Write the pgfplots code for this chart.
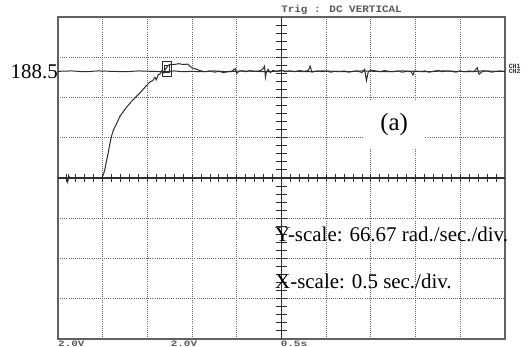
\documentclass[border=0pt]{standalone}
\usepackage{fontspec}
\setmainfont{Liberation Serif}
\newfontfamily\scopefont{Liberation Mono}
\usepackage{pgfplots}
\pgfplotsset{compat=1.18}
\usepackage{graphicx}
\definecolor{trace}{gray}{0.18}
\definecolor{framec}{gray}{0.38}
\definecolor{gridc}{gray}{0.4}
\definecolor{labc}{gray}{0.35}
\begin{document}
\begin{tikzpicture}
\path[use as bounding box, fill=white] (-58bp,-8bp) rectangle (474bp,339bp);
\begin{axis}[
  at={(0,0)}, anchor=south west,
  scale only axis, width=447bp, height=322bp,
  xmin=0, xmax=10, ymin=-4, ymax=4,
  xtick={1,2,...,9}, ytick={-3,-2,...,3},
  xticklabels={}, yticklabels={},
  major tick length=0pt,
  grid=major,
  grid style={gridc, line width=0.85bp, dash pattern=on 0.9bp off 1.2bp},
  axis line style={framec, line width=1.2bp},
  clip=false,
]
% centre graticule with minor ticks
\draw[trace, line width=1.1bp] (axis cs:0,0) -- (axis cs:10,0);
\draw[trace, line width=1.1bp] (axis cs:5,-4) -- (axis cs:5,4);
\pgfplotsinvokeforeach{0.2,0.4,0.6,0.8,1,1.2,1.4,1.6,1.8,2,2.2,2.4,2.6,2.8,3,3.2,3.4,3.6,3.8,4,4.2,4.4,4.6,4.8,5.2,5.4,5.6,5.8,6,6.2,6.4,6.6,6.8,7,7.2,7.4,7.6,7.8,8,8.2,8.4,8.6,8.8,9,9.2,9.4,9.6,9.8}{
  \draw[trace, line width=0.9bp] (axis cs:#1,-0.11) -- (axis cs:#1,0.11);
}
\pgfplotsinvokeforeach{-3.8,-3.6,-3.4,-3.2,-3,-2.8,-2.6,-2.4,-2.2,-2,-1.8,-1.6,-1.4,-1.2,-1,-0.8,-0.6,-0.4,-0.2,0.2,0.4,0.6,0.8,1,1.2,1.4,1.6,1.8,2,2.2,2.4,2.6,2.8,3,3.2,3.4,3.6,3.8}{
  \draw[trace, line width=0.9bp] (axis cs:4.885,#1) -- (axis cs:5.115,#1);
}
% CH2 reference level
\addplot[trace, line width=1bp] coordinates {
(0,2.65) (0.3,2.66) (0.6,2.64) (0.9,2.66) (1.2,2.65) (1.5,2.64) (1.8,2.66)
(2.1,2.65) (2.4,2.64) (2.6,2.66) (2.8,2.64) (3.0,2.65) (3.2,2.64) (3.5,2.66)
(3.8,2.64) (4.1,2.66) (4.4,2.65) (4.7,2.64) (5.0,2.66) (5.3,2.65) (5.6,2.64)
(5.9,2.66) (6.2,2.65) (6.5,2.64) (6.8,2.66) (7.1,2.65) (7.4,2.64) (7.7,2.66)
(8.0,2.65) (8.3,2.64) (8.6,2.66) (8.9,2.65) (9.2,2.64) (9.5,2.66) (9.8,2.65) (10,2.65)
};
% CH1 speed response
\addplot[trace, line width=1bp] coordinates {
(0,0) (0.2,0) (0.22,-0.1) (0.24,0.06) (0.26,0) (0.98,0) (1.02,0.1) (1.05,0.22)
(1.08,0.4) (1.12,0.6) (1.16,0.85) (1.2,1.05) (1.25,1.22) (1.3,1.33) (1.39,1.54)
(1.5,1.71) (1.61,1.86) (1.72,1.99) (1.83,2.11) (1.95,2.26) (2.06,2.39) (2.12,2.42)
(2.17,2.5) (2.2,2.44) (2.24,2.56) (2.28,2.58) (2.32,2.66) (2.35,2.6) (2.39,2.68)
(2.45,2.78) (2.5,2.82) (2.6,2.82) (2.7,2.84) (2.8,2.82) (2.9,2.83) (2.95,2.78)
(3.0,2.74) (3.1,2.7) (3.2,2.66)
(3.3,2.64) (3.4,2.66) (3.5,2.63) (3.6,2.65) (3.7,2.62) (3.8,2.64) (3.9,2.66)
(3.96,2.72) (4.0,2.6) (4.05,2.65) (4.1,2.66) (4.2,2.64) (4.3,2.67) (4.4,2.65)
(4.5,2.66) (4.58,2.7) (4.62,2.78) (4.64,2.5) (4.66,2.62) (4.7,2.7) (4.75,2.62)
(4.8,2.67) (4.9,2.65) (5.0,2.68) (5.1,2.64) (5.2,2.66) (5.3,2.64) (5.4,2.67)
(5.5,2.65) (5.6,2.67) (5.64,2.78) (5.68,2.63) (5.8,2.66) (5.9,2.64) (6.0,2.66)
(6.1,2.63) (6.2,2.65) (6.3,2.64) (6.4,2.66) (6.5,2.63) (6.6,2.65) (6.7,2.66)
(6.8,2.62) (6.86,2.7) (6.9,2.42) (6.94,2.63) (7.0,2.68) (7.1,2.66) (7.2,2.64)
(7.3,2.67) (7.4,2.65) (7.5,2.64) (7.6,2.66) (7.7,2.63) (7.8,2.65) (7.9,2.64)
(7.94,2.56) (7.98,2.66) (8.1,2.64) (8.2,2.66) (8.3,2.63) (8.4,2.65) (8.5,2.67)
(8.6,2.64) (8.7,2.66) (8.8,2.65) (8.9,2.63) (9.0,2.66) (9.1,2.64) (9.2,2.66)
(9.3,2.64) (9.38,2.74) (9.42,2.58) (9.5,2.65) (9.6,2.66) (9.7,2.63) (9.8,2.65)
(9.9,2.66) (10,2.64)
};
% cursor marker
\addplot[only marks, mark=square, mark size=7.5bp, mark options={trace, xscale=0.6, line width=1.1bp}] coordinates {(2.44,2.7)};
\addplot[only marks, mark=square, mark size=3.5bp, mark options={trace, xscale=0.7, line width=0.9bp}] coordinates {(2.44,2.7)};
% annotations
\node[anchor=east, inner sep=0pt, font=\fontsize{21}{21}\selectfont] at (axis cs:0,2.65) {188.5\hspace{3bp}};
\node[fill=white, minimum width=62bp, minimum height=47bp, inner sep=0pt, font=\fontsize{25}{25}\selectfont] at (axis cs:7.52,1.34) {(a)};
\node[anchor=west, inner sep=0pt, font=\fontsize{21}{21}\selectfont] at (axis cs:4.855,-1.39) {Y-scale: 66.67 rad./sec./div.};
\node[anchor=west, inner sep=0pt, font=\fontsize{21}{21}\selectfont] at (axis cs:4.855,-2.56) {X-scale: 0.5 sec./div.};
\node[anchor=west, inner sep=0pt, labc, font=\scopefont\bfseries\fontsize{11}{11}\selectfont] at (axis cs:4.99,4.17) {\scalebox{1}[0.9]{Trig : DC VERTICAL}};
\node[anchor=west, inner sep=0pt, labc, font=\scopefont\bfseries\fontsize{11}{11}\selectfont] at (axis cs:0,-4.12) {\scalebox{1}[0.75]{2.0V}};
\node[anchor=west, inner sep=0pt, labc, font=\scopefont\bfseries\fontsize{11}{11}\selectfont] at (axis cs:2.52,-4.12) {\scalebox{1}[0.75]{2.0V}};
\node[anchor=west, inner sep=0pt, labc, font=\scopefont\bfseries\fontsize{11}{11}\selectfont] at (axis cs:4.98,-4.12) {\scalebox{1}[0.75]{0.5s}};
\node[anchor=west, inner sep=0pt, align=left, trace, font=\scopefont\bfseries\fontsize{6.5}{5}\selectfont] at (axis cs:10.08,2.7) {CH1\\CH2};
\end{axis}
\end{tikzpicture}
\end{document}
